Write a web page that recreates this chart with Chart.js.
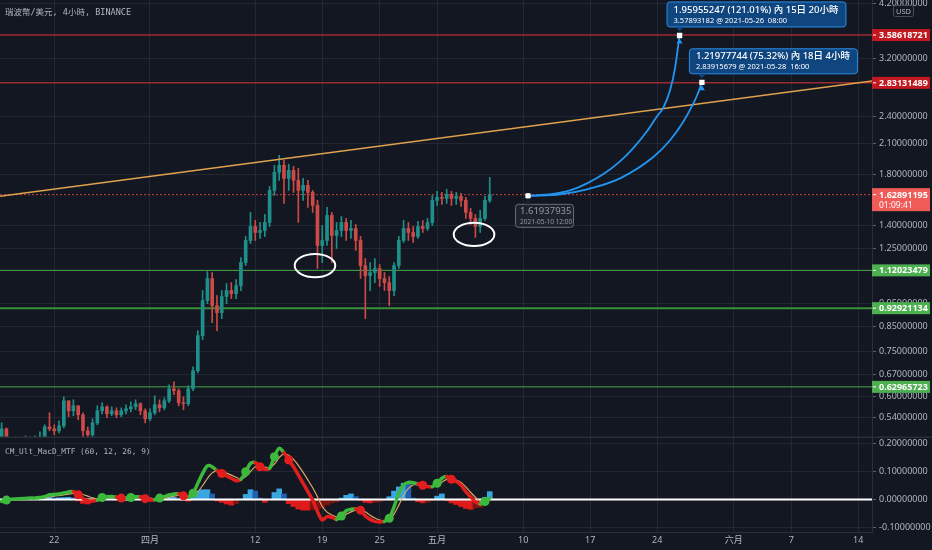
<!DOCTYPE html>
<html>
<head>
<meta charset="utf-8">
<script src="https://cdn.jsdelivr.net/npm/chart.js@4.4.1/dist/chart.umd.min.js"></script>
<style>
  html, body { margin: 0; padding: 0; background: #131722; }
  #wrap { position: relative; width: 932px; height: 550px; overflow: hidden; }
  #main { position: absolute; left: 0; top: 0; }
  #macd { position: absolute; left: 0; top: 438px; }
</style>
</head>
<body>
<div id="wrap">
  <canvas id="main" width="932" height="438"></canvas>
  <canvas id="macd" width="932" height="112"></canvas>
</div>
<script>
// time is counted in days from 2021-04-01 00:00
const xMin = -15.67;
const xMax = 75.44;
const tickDays = [-10, 0, 11, 18, 24, 30, 39, 46, 53, 61, 67, 74];
const tickLabels = ['22', '四月', '12', '19', '25', '五月', '10', '17', '24', '六月', '7', '14'];
const priceTicks = [0.54, 0.60, 0.67, 0.75, 0.85, 0.95, 1.12, 1.25, 1.40, 1.80, 2.10, 2.40, 3.20, 4.20];
const macdTicks = [-0.1, 0, 0.1, 0.2];

// candles, one every 12h starting 2021-03-16 12:00
const candleStart = -15.5;
const candleStep = 0.5;
const firstOpen = 0.4821;
const closes = [
  0.5116, 0.4821, 0.4773, 0.4821, 0.4797, 0.4869, 0.4821, 0.4845, 0.4918, 0.5167,
  0.5116, 0.5066, 0.5193, 0.5878, 0.5594, 0.5734, 0.5484, 0.5066, 0.4967, 0.5270,
  0.5594, 0.5706, 0.5511, 0.5594, 0.5484, 0.5594, 0.5650, 0.5706, 0.5792, 0.5594,
  0.5377, 0.5539, 0.5763, 0.5677, 0.5878, 0.6237, 0.6176, 0.5820, 0.5792, 0.6237,
  0.6820, 0.8111, 0.9647, 1.0758, 0.9411, 0.9090, 0.9840, 1.0137, 0.9987, 1.0391,
  1.1645, 1.2986, 1.3919, 1.3511, 1.3646, 1.4198, 1.6636, 1.8188, 1.8831, 1.7654,
  1.8370, 1.7481, 1.6636, 1.7053, 1.6472, 1.5445, 1.2668, 1.2986, 1.4698, 1.3312,
  1.3646, 1.4198, 1.3646, 1.3782, 1.2986, 1.1473, 1.0918, 1.1082, 1.1304, 1.0758,
  1.0546, 1.0137, 1.1473, 1.2986, 1.3782, 1.3511, 1.3246, 1.3919, 1.3782, 1.4198,
  1.5832, 1.6069, 1.5990, 1.6310, 1.5990, 1.6149, 1.5832, 1.4919, 1.4482, 1.3919,
  1.4482, 1.5832, 1.62891195
];
const highs = [
  0.5270, 0.5142, 0.4869, 0.4918, 0.4893, 0.4942, 0.4918, 0.4942, 0.5041, 0.5219,
  0.5539, 0.5219, 0.5323, 0.5995, 0.5878, 0.5907, 0.5734, 0.5539, 0.5167, 0.5377,
  0.5734, 0.5820, 0.5734, 0.5706, 0.5677, 0.5677, 0.5763, 0.5849, 0.5907, 0.5820,
  0.5650, 0.5650, 0.6025, 0.5907, 0.5966, 0.6363, 0.6458, 0.6237, 0.5995, 0.6331,
  0.6956, 0.8314, 1.0137, 1.1137, 1.1082, 0.9889, 1.0137, 1.0494, 1.0546, 1.0704,
  1.1937, 1.3246, 1.4919, 1.4339, 1.4198, 1.4771, 1.6969, 1.8831, 1.9788, 1.9304,
  1.8925, 1.8738, 1.8552, 1.7654, 1.7481, 1.6636, 1.5832, 1.3988, 1.5293, 1.4919,
  1.4198, 1.4625, 1.4482, 1.4339, 1.4057, 1.3246, 1.1878, 1.1645, 1.1878, 1.1530,
  1.1082, 1.0864, 1.1645, 1.3246, 1.4339, 1.4198, 1.3919, 1.4268, 1.4339, 1.4482,
  1.6229, 1.6554, 1.6472, 1.6718, 1.6554, 1.6472, 1.6390, 1.6069, 1.5217, 1.4771,
  1.5067, 1.6149, 1.7742
];
const lows = [
  0.4821, 0.4703, 0.4633, 0.4680, 0.4680, 0.4750, 0.4703, 0.4727, 0.4773, 0.4869,
  0.5066, 0.4967, 0.5016, 0.5142, 0.5430, 0.5457, 0.5350, 0.4918, 0.4821, 0.4918,
  0.5219, 0.5511, 0.5404, 0.5457, 0.5404, 0.5430, 0.5511, 0.5566, 0.5622, 0.5484,
  0.5270, 0.5323, 0.5484, 0.5566, 0.5622, 0.5820, 0.6055, 0.5734, 0.5622, 0.5734,
  0.6176, 0.6753, 0.7951, 0.9505, 0.8651, 0.8314, 0.8824, 0.9505, 0.9743, 0.9743,
  1.0137, 1.1473, 1.2794, 1.2986, 1.3115, 1.3246, 1.3919, 1.6229, 1.7481, 1.5598,
  1.6636, 1.6472, 1.4198, 1.5832, 1.5293, 1.4919, 1.1304, 1.1645, 1.2668, 1.1645,
  1.2482, 1.3246, 1.2986, 1.3115, 1.2358, 1.0758, 0.8824, 1.0137, 1.0546, 1.0340,
  1.0137, 0.9411, 0.9889, 1.1304, 1.2858, 1.2986, 1.2858, 1.3115, 1.3511, 1.3646,
  1.3988, 1.5445, 1.5521, 1.5598, 1.5445, 1.5521, 1.5369, 1.4482, 1.4057, 1.3181,
  1.3511, 1.4339, 1.5675
];

// CM_Ult_MacD_MTF values at the same 12h steps
const macd = [
  -0.007, -0.002, 0.001, 0.002, 0.003, 0.004, 0.005, 0.005, 0.007, 0.010,
  0.017, 0.018, 0.020, 0.023, 0.027, 0.028, 0.017, 0.004, -0.004, -0.005,
  -0.002, 0.007, 0.010, 0.011, 0.008, 0.005, 0.005, 0.007, 0.010, 0.009,
  0.003, -0.001, -0.001, 0.005, 0.010, 0.016, 0.020, 0.020, 0.013, 0.008,
  0.022, 0.058, 0.093, 0.120, 0.117, 0.103, 0.093, 0.084, 0.076, 0.067,
  0.072, 0.099, 0.129, 0.132, 0.117, 0.108, 0.111, 0.153, 0.183, 0.167,
  0.141, 0.117, 0.088, 0.058, 0.028, -0.002, -0.043, -0.073, -0.061, -0.064,
  -0.071, -0.059, -0.040, -0.035, -0.034, -0.038, -0.059, -0.071, -0.078, -0.080,
  -0.078, -0.067, -0.026, 0.022, 0.052, 0.061, 0.060, 0.055, 0.051, 0.046,
  0.046, 0.058, 0.076, 0.082, 0.072, 0.064, 0.052, 0.028, 0.010, -0.008,
  -0.016, -0.007, 0.004
];
const signal = [
  -0.004, -0.003, -0.001, 0.000, 0.001, 0.002, 0.003, 0.004, 0.005, 0.006,
  0.009, 0.012, 0.014, 0.016, 0.019, 0.022, 0.022, 0.018, 0.012, 0.006,
  0.002, 0.002, 0.004, 0.007, 0.008, 0.008, 0.007, 0.007, 0.008, 0.009,
  0.008, 0.005, 0.002, 0.002, 0.004, 0.008, 0.012, 0.015, 0.016, 0.014,
  0.015, 0.028, 0.050, 0.075, 0.095, 0.102, 0.100, 0.094, 0.087, 0.079,
  0.074, 0.082, 0.100, 0.117, 0.120, 0.116, 0.113, 0.126, 0.150, 0.163,
  0.158, 0.143, 0.122, 0.097, 0.070, 0.042, 0.010, -0.025, -0.045, -0.055,
  -0.062, -0.062, -0.053, -0.044, -0.038, -0.036, -0.044, -0.056, -0.066, -0.073,
  -0.076, -0.073, -0.052, -0.020, 0.015, 0.040, 0.052, 0.055, 0.054, 0.050,
  0.048, 0.051, 0.062, 0.072, 0.073, 0.069, 0.061, 0.045, 0.026, 0.008,
  -0.006, -0.008, -0.003
];
const hist = [
  -0.003, -0.002, 0.002, 0.002, 0.002, 0.002, 0.002, 0.001, 0.002, 0.004,
  0.008, 0.006, 0.006, 0.007, 0.008, 0.006, -0.005, -0.014, -0.016, -0.011,
  -0.004, 0.005, 0.006, 0.004, 0.000, -0.003, -0.002, 0.000, 0.002, 0.000,
  -0.005, -0.006, -0.003, 0.003, 0.006, 0.008, 0.008, 0.005, -0.003, -0.006,
  0.007, 0.030, 0.035, 0.035, 0.020, -0.005, -0.010, -0.016, -0.020, -0.015,
  0.000, 0.018, 0.035, 0.030, 0.005, -0.010, 0.000, 0.025, 0.038, 0.020,
  -0.015, -0.025, -0.034, -0.038, -0.038, -0.036, -0.035, -0.030, -0.020, -0.012,
  -0.008, 0.005, 0.015, 0.020, 0.010, -0.002, -0.010, -0.012, -0.010, -0.008,
  -0.002, 0.010, 0.030, 0.045, 0.058, 0.055, 0.005, -0.008, -0.012, -0.010,
  -0.003, 0.012, 0.020, -0.004, -0.012, -0.018, -0.025, -0.032, -0.035, -0.030,
  -0.028, 0.008, 0.028
];

// drawings
const resistance = [3.58618721, 2.83131489];
const support = [1.12023479, 0.92921134, 0.62965723];
const lastPrice = 1.62891195;
const countdown = '01:09:41';
const trendDays = [xMin, xMax];
const trendPrices = [1.617, 2.857];
const projStart = { day: 39.5, price: 1.61937935, date: '2021-05-10 12:00' };
const projUpDays = [39.5, 42.11, 43.89, 45.66, 47.34, 49.11, 50.47, 51.93, 52.98, 53.61, 54.34, 54.86, 55.333];
const projUpPrices = [1.61937935, 1.6350, 1.6636, 1.7224, 1.8009, 1.9207, 2.0485, 2.2286, 2.4005, 2.4974, 2.7301, 3.0458, 3.57893182];
const projLowDays = [39.5, 42.84, 45.66, 49.11, 52.56, 54.34, 55.69, 56.74, 57.26, 57.667];
const projLowPrices = [1.61937935, 1.6309, 1.6719, 1.7655, 1.9592, 2.1313, 2.3300, 2.5476, 2.6892, 2.83915679];
const projUpInfo = { span: '15日 20小時', date: '2021-05-26  08:00' };
const projLowInfo = { span: '18日 4小時', date: '2021-05-28  16:00' };
const circleDays = [17.24, 33.86];
const circlePrices = [1.147, 1.338];

const bg = '#131722';
const gridColor = 'rgba(42,46,57,0.75)';
const textColor = '#b2b5be';
const axisFont = { family: '"Noto Sans", "Noto Sans CJK TC", sans-serif', size: 9 };
const upColor = '#1f9089';
const downColor = '#cc4a47';
const macdGreen = '#3cb83c';
const macdRed = '#e11d1d';

const idx = closes.map((_, i) => i);
const candleDay = i => candleStart + i * candleStep;
const opens = closes.map((c, i) => (i === 0 ? firstOpen : closes[i - 1]));
const candleColor = c => (closes[c.dataIndex] >= opens[c.dataIndex] ? upColor : downColor);

const hLine = (v, color, width, dash) => ({
  type: 'line',
  data: [{ x: xMin, y: v }, { x: xMax, y: v }],
  borderColor: color, borderWidth: width, borderDash: dash || [],
  pointRadius: 0, order: 6
});
const curve = (days, prices) => ({
  type: 'line',
  data: days.map((d, i) => ({ x: d, y: prices[i] })),
  borderColor: '#2196f3', borderWidth: 1.8,
  cubicInterpolationMode: 'monotone',
  pointRadius: c => (c.dataIndex === days.length - 1 ? 2.5 : 0),
  pointStyle: 'rect', pointBackgroundColor: '#ffffff', pointBorderColor: '#ffffff',
  order: 1
});

const fixY = s => { s.width = 60; s.paddingTop = 0; s.paddingBottom = 0; };

function roundRect(ctx, x, y, w, h, r) {
  ctx.beginPath();
  ctx.moveTo(x + r, y);
  ctx.arcTo(x + w, y, x + w, y + h, r);
  ctx.arcTo(x + w, y + h, x, y + h, r);
  ctx.arcTo(x, y + h, x, y, r);
  ctx.arcTo(x, y, x + w, y, r);
  ctx.closePath();
}

function priceTag(ctx, yPix, text, fill) {
  ctx.fillStyle = fill;
  ctx.fillRect(872, yPix - 6, 58, 12);
  ctx.fillStyle = '#ffffff';
  ctx.fillRect(873, yPix - 0.5, 3, 1);
  ctx.font = 'bold 9px "Noto Sans", sans-serif';
  ctx.textAlign = 'left';
  ctx.textBaseline = 'middle';
  ctx.fillText(text, 879, yPix + 0.5);
}

function projBox(ctx, px, py, target, info) {
  const gain = target - projStart.price;
  const line1 = gain.toFixed(8) + ' (' + (gain / projStart.price * 100).toFixed(2) + '%) 內 ' + info.span;
  const line2 = target.toFixed(8) + ' @ ' + info.date;
  ctx.font = '500 9.5px "Noto Sans", "Noto Sans CJK TC", sans-serif';
  const w = ctx.measureText(line1).width + 14;
  const left = px - 13, top = py - 34, h = 25;
  ctx.fillStyle = '#104680';
  ctx.strokeStyle = '#2a8de4';
  ctx.lineWidth = 1;
  roundRect(ctx, left + 0.5, top + 0.5, w, h, 3);
  ctx.fill();
  ctx.stroke();
  // pointer
  ctx.beginPath();
  ctx.moveTo(px - 4, top + h + 0.5);
  ctx.lineTo(px, top + h + 5);
  ctx.lineTo(px + 4, top + h + 0.5);
  ctx.closePath();
  ctx.fill();
  ctx.fillStyle = '#ffffff';
  ctx.textAlign = 'left';
  ctx.textBaseline = 'middle';
  ctx.fillText(line1, left + 7, top + 8.5);
  ctx.font = '7.5px "Noto Sans", sans-serif';
  ctx.fillText(line2, left + 7, top + 19);
}

const mainOverlay = {
  id: 'mainOverlay',
  beforeDraw(chart) {
    const ctx = chart.ctx;
    ctx.save();
    ctx.fillStyle = bg;
    ctx.fillRect(0, 0, chart.width, chart.height);
    ctx.restore();
  },
  afterDatasetsDraw(chart) {
    const { ctx, scales: { x, y } } = chart;
    ctx.save();
    ctx.strokeStyle = '#ffffff';
    ctx.lineWidth = 2;
    circleDays.forEach((d, i) => {
      ctx.beginPath();
      ctx.ellipse(x.getPixelForValue(d), y.getPixelForValue(circlePrices[i]), 20.3, 11.6, 0, 0, Math.PI * 2);
      ctx.stroke();
    });
    // arrow heads at projection targets
    [[projUpDays, projUpPrices], [projLowDays, projLowPrices]].forEach(([ds, ps]) => {
      const px = x.getPixelForValue(ds[ds.length - 1]);
      const py = y.getPixelForValue(ps[ps.length - 1]);
      ctx.fillStyle = '#2196f3';
      ctx.beginPath();
      ctx.moveTo(px, py + 3);
      ctx.lineTo(px - 3, py + 8);
      ctx.lineTo(px + 3, py + 8);
      ctx.closePath();
      ctx.fill();
    });
    // start label
    const sx = x.getPixelForValue(projStart.day);
    const sy = y.getPixelForValue(projStart.price);
    ctx.fillStyle = '#1e222d';
    ctx.strokeStyle = '#6a6d78';
    ctx.lineWidth = 1;
    roundRect(ctx, sx - 12.5, sy + 8.5, 58, 23, 3);
    ctx.fill();
    ctx.stroke();
    ctx.beginPath();
    ctx.moveTo(sx - 4, sy + 8.5);
    ctx.lineTo(sx, sy + 4);
    ctx.lineTo(sx + 4, sy + 8.5);
    ctx.fill();
    ctx.fillStyle = '#9598a1';
    ctx.textAlign = 'left';
    ctx.textBaseline = 'middle';
    ctx.font = '9.5px "Noto Sans", sans-serif';
    ctx.fillText(projStart.price.toFixed(8), sx - 8, sy + 15.5);
    ctx.font = '6.5px "Noto Sans", sans-serif';
    ctx.fillText(projStart.date, sx - 8, sy + 26);
    // projection boxes
    projBox(ctx, x.getPixelForValue(projUpDays[projUpDays.length - 1]), y.getPixelForValue(projUpPrices[projUpPrices.length - 1]), projUpPrices[projUpPrices.length - 1], projUpInfo);
    projBox(ctx, x.getPixelForValue(projLowDays[projLowDays.length - 1]), y.getPixelForValue(projLowPrices[projLowPrices.length - 1]), projLowPrices[projLowPrices.length - 1], projLowInfo);
    ctx.restore();
  },
  afterDraw(chart) {
    const { ctx, scales: { y } } = chart;
    ctx.save();
    // title
    ctx.fillStyle = textColor;
    ctx.font = '8.5px "DejaVu Sans Mono", "Noto Sans CJK TC", monospace';
    ctx.textAlign = 'left';
    ctx.textBaseline = 'middle';
    ctx.fillText('瑞波幣/美元, 4小時, BINANCE', 5, 13);
    // USD badge
    ctx.strokeStyle = '#4a4e5a';
    ctx.lineWidth = 1;
    roundRect(ctx, 893.5, 5.5, 20, 11, 2);
    ctx.stroke();
    ctx.fillStyle = textColor;
    ctx.font = '7.5px "Noto Sans", sans-serif';
    ctx.textAlign = 'center';
    ctx.fillText('USD', 903.5, 11.5);
    // level tags
    resistance.forEach(v => priceTag(ctx, y.getPixelForValue(v), v.toFixed(8), '#c2181f'));
    support.forEach(v => priceTag(ctx, y.getPixelForValue(v), v.toFixed(8), '#4caf50'));
    const ly = y.getPixelForValue(lastPrice);
    ctx.fillStyle = '#f05a57';
    ctx.fillRect(872, ly - 6.5, 58, 23);
    ctx.fillStyle = '#ffffff';
    ctx.fillRect(873, ly - 0.5, 3, 1);
    ctx.font = 'bold 9px "Noto Sans", sans-serif';
    ctx.textAlign = 'left';
    ctx.fillText(lastPrice.toFixed(8), 879, ly + 0.5);
    ctx.font = '8.5px "Noto Sans", sans-serif';
    ctx.fillText(countdown, 879, ly + 11);
    // panel separator
    ctx.fillStyle = '#2a2e39';
    ctx.fillRect(0, 436.5, 932, 1.5);
    ctx.restore();
  }
};

new Chart(document.getElementById('main'), {
  type: 'bar',
  data: {
    datasets: [
      {
        type: 'bar',
        data: idx.map(i => ({ x: candleDay(i), y: [lows[i], highs[i]] })),
        backgroundColor: candleColor, barThickness: 1, grouped: false, order: 5
      },
      {
        type: 'bar',
        data: idx.map(i => ({ x: candleDay(i), y: [opens[i], closes[i]] })),
        backgroundColor: candleColor, barThickness: 3, grouped: false, minBarLength: 1, order: 4
      },
      ...resistance.map(v => hLine(v, '#9c2b2f', 1.5)),
      hLine(support[0], '#45a845', 1),
      hLine(support[1], '#3a8f3a', 2),
      hLine(support[2], '#45a845', 1),
      hLine(lastPrice, '#c8413b', 1, [2, 2]),
      {
        type: 'line',
        data: trendDays.map((d, i) => ({ x: d, y: trendPrices[i] })),
        borderColor: '#e0a24c', borderWidth: 1.5, pointRadius: 0, order: 3
      },
      curve(projUpDays, projUpPrices),
      curve(projLowDays, projLowPrices),
      {
        type: 'line',
        data: [{ x: projStart.day, y: projStart.price }],
        showLine: false, pointStyle: 'rect', pointRadius: 3,
        pointBackgroundColor: '#ffffff', pointBorderColor: '#ffffff', order: 0
      }
    ]
  },
  options: {
    responsive: false,
    animation: false,
    layout: { padding: 0, autoPadding: false },
    plugins: { legend: { display: false }, tooltip: { enabled: false } },
    scales: {
      x: {
        type: 'linear', min: xMin, max: xMax, offset: false,
        afterBuildTicks: s => { s.ticks = tickDays.map(v => ({ value: v })); },
        ticks: { display: false },
        grid: { color: gridColor, drawTicks: false, offset: false },
        border: { display: false },
        afterFit: s => { s.height = 0; s.paddingLeft = 0; s.paddingRight = 0; }
      },
      y: {
        type: 'logarithmic', position: 'right', min: 0.489, max: 4.265,
        afterBuildTicks: s => { s.ticks = priceTicks.map(v => ({ value: v })); },
        ticks: { callback: v => Number(v).toFixed(8), color: textColor, font: axisFont, padding: 3, autoSkip: false },
        grid: { color: gridColor, tickLength: 4, tickColor: '#5d606b' },
        border: { color: '#2a2e39' },
        afterFit: fixY
      }
    }
  },
  plugins: [mainOverlay]
});

// MACD panel
const crossAt = i => i > 0 && (macd[i] >= signal[i]) !== (macd[i - 1] >= signal[i - 1]);
const histColor = c => {
  const i = c.dataIndex, h = hist[i], prev = i > 0 ? hist[i - 1] : 0;
  if (h > 0) return h >= prev ? '#3aa6e0' : '#1f60b2';
  return h <= prev ? '#df1a1a' : '#7c1414';
};

const macdOverlay = {
  id: 'macdOverlay',
  beforeDraw(chart) {
    const ctx = chart.ctx;
    ctx.save();
    ctx.fillStyle = bg;
    ctx.fillRect(0, 0, chart.width, chart.height);
    ctx.restore();
  },
  afterDraw(chart) {
    const ctx = chart.ctx;
    ctx.save();
    ctx.fillStyle = textColor;
    ctx.font = '7.8px "DejaVu Sans Mono", monospace';
    ctx.textAlign = 'left';
    ctx.textBaseline = 'middle';
    ctx.fillText('CM_Ult_MacD_MTF (60, 12, 26, 9)', 5, 14);
    ctx.restore();
  }
};

new Chart(document.getElementById('macd'), {
  type: 'bar',
  data: {
    datasets: [
      {
        type: 'bar',
        data: idx.map(i => ({ x: candleDay(i), y: hist[i] })),
        backgroundColor: histColor, barThickness: 5, grouped: false, order: 4
      },
      {
        type: 'line',
        data: [{ x: xMin, y: 0 }, { x: xMax, y: 0 }],
        borderColor: '#ffffff', borderWidth: 2, pointRadius: 0, order: 3
      },
      {
        type: 'line',
        data: idx.map(i => ({ x: candleDay(i), y: signal[i] })),
        borderColor: '#d9a866', borderWidth: 1.2, pointRadius: 0, tension: 0.3, order: 2
      },
      {
        type: 'line',
        data: idx.map(i => ({ x: candleDay(i), y: macd[i] })),
        borderColor: macdGreen, borderWidth: 3.5, tension: 0.3,
        borderCapStyle: 'round', borderJoinStyle: 'round',
        segment: { borderColor: c => (macd[c.p1DataIndex] >= signal[c.p1DataIndex] ? macdGreen : macdRed) },
        pointRadius: c => (crossAt(c.dataIndex) ? 4.5 : 0),
        pointBackgroundColor: c => (macd[c.dataIndex] >= signal[c.dataIndex] ? macdGreen : macdRed),
        pointBorderWidth: 0, order: 1
      }
    ]
  },
  options: {
    responsive: false,
    animation: false,
    layout: { padding: 0, autoPadding: false },
    plugins: { legend: { display: false }, tooltip: { enabled: false } },
    scales: {
      x: {
        type: 'linear', min: xMin, max: xMax, offset: false,
        afterBuildTicks: s => { s.ticks = tickDays.map(v => ({ value: v })); },
        ticks: { callback: (v, i) => tickLabels[i], color: textColor, font: axisFont, padding: 3, maxRotation: 0, autoSkip: false },
        grid: { color: gridColor, drawTicks: false, offset: false },
        border: { color: '#2a2e39' },
        afterFit: s => { s.height = 18; s.paddingLeft = 0; s.paddingRight = 0; }
      },
      y: {
        position: 'right', min: -0.116, max: 0.2196,
        afterBuildTicks: s => { s.ticks = macdTicks.map(v => ({ value: v })); },
        ticks: { callback: v => Number(v).toFixed(8), color: textColor, font: axisFont, padding: 3, autoSkip: false },
        grid: { color: gridColor, tickLength: 4, tickColor: '#5d606b' },
        border: { color: '#2a2e39' },
        afterFit: fixY
      }
    }
  },
  plugins: [macdOverlay]
});
</script>
</body>
</html>
